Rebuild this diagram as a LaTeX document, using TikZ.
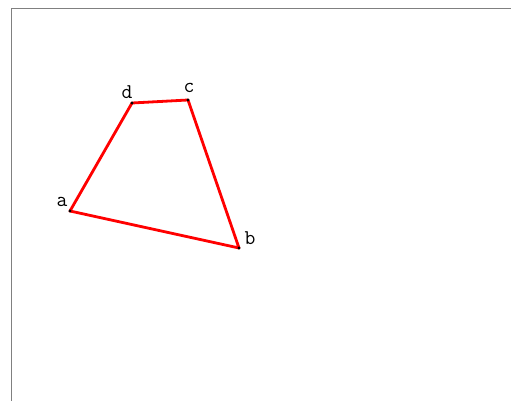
\documentclass[tikz,border=0pt]{standalone}
\usetikzlibrary{positioning}

\begin{document}
\begin{tikzpicture}[x=1pt, y=-1pt,
  edge/.style={draw=red, line width=2.8pt, line join=round},
  vtx/.style={circle, fill=black, inner sep=0pt, minimum size=3.4pt},
  lbl/.style={inner sep=0pt, font=\ttfamily\fontsize{21}{21}\selectfont},
  frame/.style={draw=gray, line width=1pt}]
\useasboundingbox (0,0) rectangle (511,401);
\draw[frame] (11,401) -- (11,9) -- (511,9);
% corners of the quadrilateral
\coordinate (a) at (70,211);
\coordinate (b) at (239,248);
\coordinate (c) at (188,100);
\coordinate (d) at (132,103);
\draw[edge] (a) -- (b) -- (c) -- (d) -- cycle;
\foreach \p in {a,b,c,d} \node[vtx] (dot\p) at (\p) {};
% labels
\node[lbl] (la) at (62,202) {a};
\node[lbl] (lb) at (250,238) {b};
\node[lbl] (lc) at (189,88) {c};
\node[lbl] (ld) at (127,92) {d};
\end{tikzpicture}
\end{document}
